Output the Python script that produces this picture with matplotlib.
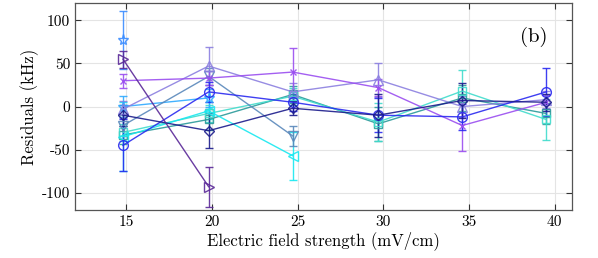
import numpy as np
import matplotlib
matplotlib.use("Agg")
import matplotlib.pyplot as plt

plt.rcParams['font.family'] = 'cmr10'
plt.rcParams['axes.unicode_minus'] = False
plt.rcParams['mathtext.fontset'] = 'cm'

# field strengths where each point was measured
field = [14.8, 19.8, 24.7, 29.7, 34.6, 39.5]

# residuals (kHz) per data set, nan = no point
res_purple_dark = [55, -93, np.nan, np.nan, np.nan, np.nan]
err_purple_dark = [10, 23, 0, 0, 0, 0]
res_hex = [77, np.nan, np.nan, np.nan, np.nan, np.nan]
err_hex = [34, 0, 0, 0, 0, 0]
res_purple = [30, 33, 40, 22, -22, 5]
err_purple = [8, 8, 28, 10, 30, 8]
res_lavender = [-3, 47, 17, 31, 0, 8]
err_lavender = [10, 22, 10, 20, 12, 10]
res_steel = [-22, 35, -34, np.nan, np.nan, np.nan]
err_steel = [12, 10, 12, 0, 0, 0]
res_blue = [-45, 17, 5, -10, -12, 17]
err_blue = [30, 12, 10, 20, 15, 28]
res_navy = [-10, -28, -2, -10, 7, 5]
err_navy = [12, 20, 8, 25, 20, 10]
res_cyan = [-35, -5, -57, np.nan, np.nan, np.nan]
err_cyan = [40, 10, 28, 0, 0, 0]
res_teal = [-33, -15, 14, -20, 10, -8]
err_teal = [10, 12, 10, 20, 15, 12]
res_turq = [-30, -8, 12, -18, 18, -15]
err_turq = [10, 10, 10, 22, 24, 24]
res_light = [0, 10, np.nan, np.nan, np.nan, np.nan]
err_light = [12, 10, 0, 0, 0, 0]

sets = [
    (res_teal, err_teal, '#2a9a9a', 's', 6),
    (res_turq, err_turq, '#40dccc', 's', 6),
    (res_cyan, err_cyan, '#18e8f0', '<', 7),
    (res_light, err_light, '#30aaff', '*', 8),
    (res_hex, err_hex, '#3a8cff', '*', 8),
    (res_steel, err_steel, '#5a88bb', 'v', 7),
    (res_lavender, err_lavender, '#8c80e0', '^', 7),
    (res_purple, err_purple, '#9a4ef0', 'x', 5),
    (res_blue, err_blue, '#2a2af0', 'o', 7),
    (res_navy, err_navy, '#1c1c8c', 'D', 5.5),
    (res_purple_dark, err_purple_dark, '#5a2898', '>', 7),
]

fig = plt.figure(figsize=(5.98, 2.58), dpi=100)
ax = fig.add_axes([0.1254, 0.186, 0.831, 0.802])

for y, e, c, m, ms in sets:
    y = np.array(y, dtype=float)
    e = np.array(e, dtype=float)
    ok = ~np.isnan(y)
    x = np.array(field)[ok]
    ax.errorbar(x, y[ok], yerr=e[ok], color=c, marker=m, ms=ms, mfc='none',
                mec=c, lw=1.0, elinewidth=1.0, capsize=3, alpha=0.9)

ax.set_xlim(12, 41)
ax.set_ylim(-120, 120)
ax.set_xticks([15, 20, 25, 30, 35, 40])
ax.set_yticks([-100, -50, 0, 50, 100])
ax.grid(True, color='#e4e4e4', lw=0.8)
ax.set_axisbelow(True)
ax.tick_params(direction='in', top=True, right=True, labelsize=11, colors='#333333',
               labelcolor='black', length=4)
for s in ax.spines.values():
    s.set_color('#555555')
    s.set_linewidth(0.9)

ax.set_xlabel('Electric field strength (mV/cm)', fontsize=12, labelpad=2)
ax.set_ylabel('Residuals (kHz)', fontsize=12, labelpad=2)
ax.text(0.95, 0.835, '(b)', transform=ax.transAxes, fontsize=15, ha='right', va='center')

fig.savefig('out.png', dpi=100)
